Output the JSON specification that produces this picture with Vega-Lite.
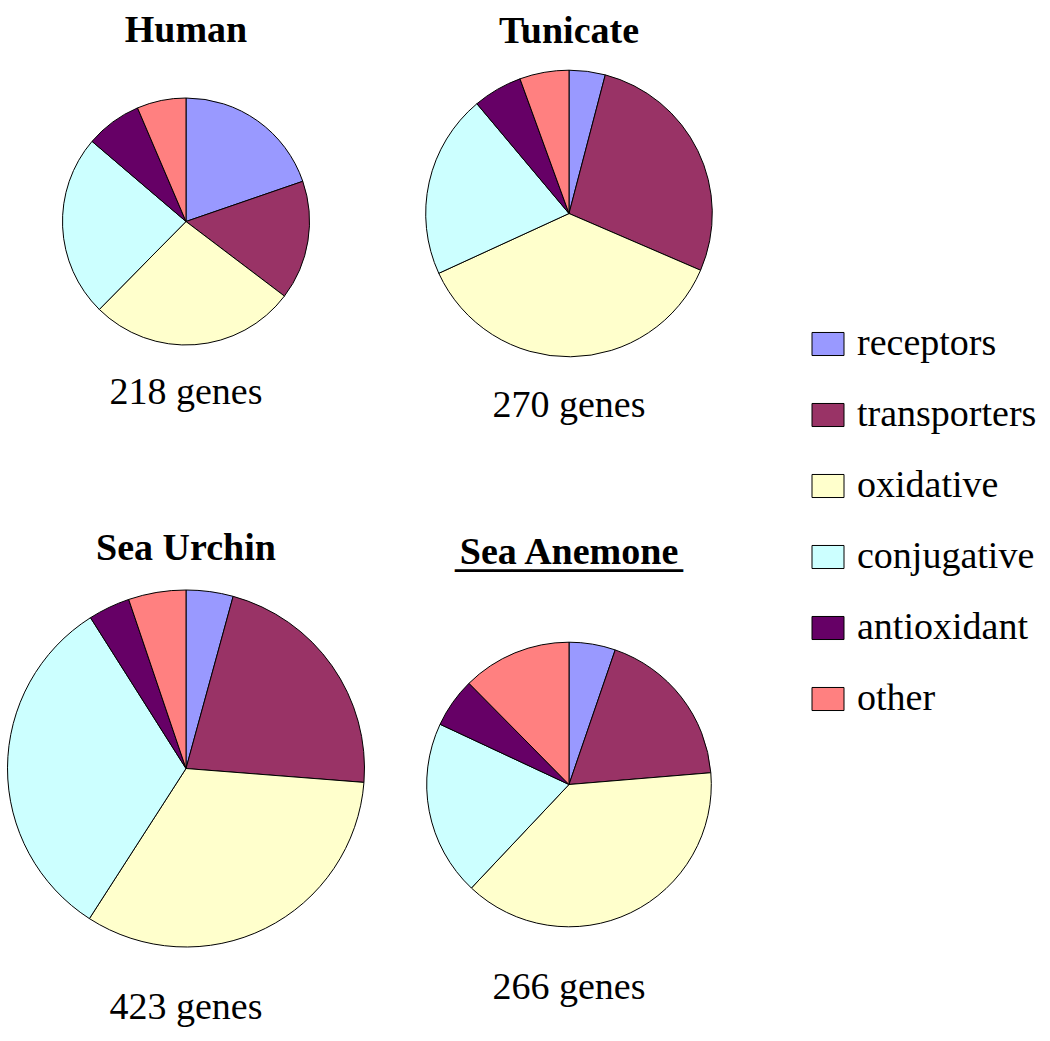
{
  "$schema": "https://vega.github.io/schema/vega-lite/v6.json",
  "padding": 0,
  "background": "white",
  "config": {"view": {"stroke": null}, "text": {"font": "Times New Roman, Liberation Serif, Times, serif", "fontSize": 38, "color": "black"}},
  "datasets": {
    "counts": [
      {"species": "Human", "category": "receptors", "count": 43},
      {"species": "Human", "category": "transporters", "count": 34},
      {"species": "Human", "category": "oxidative", "count": 59},
      {"species": "Human", "category": "conjugative", "count": 52},
      {"species": "Human", "category": "antioxidant", "count": 16},
      {"species": "Human", "category": "other", "count": 14},
      {"species": "Tunicate", "category": "receptors", "count": 11},
      {"species": "Tunicate", "category": "transporters", "count": 74},
      {"species": "Tunicate", "category": "oxidative", "count": 99},
      {"species": "Tunicate", "category": "conjugative", "count": 56},
      {"species": "Tunicate", "category": "antioxidant", "count": 15},
      {"species": "Tunicate", "category": "other", "count": 15},
      {"species": "Sea Urchin", "category": "receptors", "count": 18},
      {"species": "Sea Urchin", "category": "transporters", "count": 93},
      {"species": "Sea Urchin", "category": "oxidative", "count": 139},
      {"species": "Sea Urchin", "category": "conjugative", "count": 135},
      {"species": "Sea Urchin", "category": "antioxidant", "count": 16},
      {"species": "Sea Urchin", "category": "other", "count": 22},
      {"species": "Sea Anemone", "category": "receptors", "count": 14},
      {"species": "Sea Anemone", "category": "transporters", "count": 49},
      {"species": "Sea Anemone", "category": "oxidative", "count": 102},
      {"species": "Sea Anemone", "category": "conjugative", "count": 53},
      {"species": "Sea Anemone", "category": "antioxidant", "count": 15},
      {"species": "Sea Anemone", "category": "other", "count": 33}
    ]
  },
  "columns": 2,
  "align": "each",
  "bounds": "flush",
  "spacing": {"row": 87, "column": 47},
  "concat": [
    {
      "width": 372, "height": 443,
      "layer": [
        {
          "data": {"name": "counts"},
          "transform": [{"filter": "datum.species == 'Human'"}, {"calculate": "indexof(['receptors','transporters','oxidative','conjugative','antioxidant','other'], datum.category)", "as": "rank"}],
          "mark": {"type": "arc", "outerRadius": 123.5, "stroke": "black", "strokeWidth": 1},
          "encoding": {
            "theta": {"field": "count", "type": "quantitative", "stack": true},
            "order": {"field": "rank", "type": "quantitative"},
            "color": {"field": "category", "type": "nominal",
              "scale": {"domain": ["receptors", "transporters", "oxidative", "conjugative", "antioxidant", "other"], "range": ["#9999FF", "#993366", "#FFFFCC", "#CCFFFF", "#660066", "#FF8080"]},
              "legend": {"title": null, "orient": "none", "legendX": 809, "legendY": 325, "padding": 0, "symbolType": "M-1,-0.72L1,-0.72L1,0.72L-1,0.72Z", "symbolSize": 1024, "symbolStrokeColor": "black", "symbolStrokeWidth": 1, "symbolOpacity": 1, "labelFont": "Times New Roman, Liberation Serif, Times, serif", "labelFontSize": 38, "labelColor": "black", "labelOffset": 10, "rowPadding": 33, "labelLimit": 400}}
          }
        },
        {
          "data": {"values": [{"name": "Human"}]},
          "mark": {"type": "text", "theta": 0, "radius": 180, "baseline": "alphabetic", "fontWeight": "bold"},
          "encoding": {"text": {"field": "name"}}
        },
        {
          "data": {"values": [{"label": "218 genes"}]},
          "mark": {"type": "text", "theta": 3.14159265, "radius": 182, "baseline": "alphabetic"},
          "encoding": {"text": {"field": "label"}}
        }
      ]
    },
    {
      "width": 300, "height": 427,
      "layer": [
        {
          "data": {"name": "counts"},
          "transform": [{"filter": "datum.species == 'Tunicate'"}, {"calculate": "indexof(['receptors','transporters','oxidative','conjugative','antioxidant','other'], datum.category)", "as": "rank"}],
          "mark": {"type": "arc", "outerRadius": 143.3, "stroke": "black", "strokeWidth": 1},
          "encoding": {
            "theta": {"field": "count", "type": "quantitative", "stack": true},
            "order": {"field": "rank", "type": "quantitative"},
            "color": {"field": "category", "type": "nominal",
              "scale": {"domain": ["receptors", "transporters", "oxidative", "conjugative", "antioxidant", "other"], "range": ["#9999FF", "#993366", "#FFFFCC", "#CCFFFF", "#660066", "#FF8080"]},
              "legend": {"title": null, "orient": "none", "legendX": 809, "legendY": 325, "padding": 0, "symbolType": "M-1,-0.72L1,-0.72L1,0.72L-1,0.72Z", "symbolSize": 1024, "symbolStrokeColor": "black", "symbolStrokeWidth": 1, "symbolOpacity": 1, "labelFont": "Times New Roman, Liberation Serif, Times, serif", "labelFontSize": 38, "labelColor": "black", "labelOffset": 10, "rowPadding": 33, "labelLimit": 400}}
          }
        },
        {
          "data": {"values": [{"name": "Tunicate"}]},
          "mark": {"type": "text", "theta": 0, "radius": 171, "baseline": "alphabetic", "fontWeight": "bold"},
          "encoding": {"text": {"field": "name"}}
        },
        {
          "data": {"values": [{"label": "270 genes"}]},
          "mark": {"type": "text", "theta": 3.14159265, "radius": 203, "baseline": "alphabetic"},
          "encoding": {"text": {"field": "label"}}
        }
      ]
    },
    {
      "width": 372, "height": 477,
      "layer": [
        {
          "data": {"name": "counts"},
          "transform": [{"filter": "datum.species == 'Sea Urchin'"}, {"calculate": "indexof(['receptors','transporters','oxidative','conjugative','antioxidant','other'], datum.category)", "as": "rank"}],
          "mark": {"type": "arc", "outerRadius": 178.5, "stroke": "black", "strokeWidth": 1},
          "encoding": {
            "theta": {"field": "count", "type": "quantitative", "stack": true},
            "order": {"field": "rank", "type": "quantitative"},
            "color": {"field": "category", "type": "nominal",
              "scale": {"domain": ["receptors", "transporters", "oxidative", "conjugative", "antioxidant", "other"], "range": ["#9999FF", "#993366", "#FFFFCC", "#CCFFFF", "#660066", "#FF8080"]},
              "legend": {"title": null, "orient": "none", "legendX": 809, "legendY": 325, "padding": 0, "symbolType": "M-1,-0.72L1,-0.72L1,0.72L-1,0.72Z", "symbolSize": 1024, "symbolStrokeColor": "black", "symbolStrokeWidth": 1, "symbolOpacity": 1, "labelFont": "Times New Roman, Liberation Serif, Times, serif", "labelFontSize": 38, "labelColor": "black", "labelOffset": 10, "rowPadding": 33, "labelLimit": 400}}
          }
        },
        {
          "data": {"values": [{"name": "Sea Urchin"}]},
          "mark": {"type": "text", "theta": 0, "radius": 209, "baseline": "alphabetic", "fontWeight": "bold"},
          "encoding": {"text": {"field": "name"}}
        },
        {
          "data": {"values": [{"label": "423 genes"}]},
          "mark": {"type": "text", "theta": 3.14159265, "radius": 250, "baseline": "alphabetic"},
          "encoding": {"text": {"field": "label"}}
        }
      ]
    },
    {
      "width": 300, "height": 509,
      "layer": [
        {
          "data": {"name": "counts"},
          "transform": [{"filter": "datum.species == 'Sea Anemone'"}, {"calculate": "indexof(['receptors','transporters','oxidative','conjugative','antioxidant','other'], datum.category)", "as": "rank"}],
          "mark": {"type": "arc", "outerRadius": 142.3, "stroke": "black", "strokeWidth": 1},
          "encoding": {
            "theta": {"field": "count", "type": "quantitative", "stack": true},
            "order": {"field": "rank", "type": "quantitative"},
            "color": {"field": "category", "type": "nominal",
              "scale": {"domain": ["receptors", "transporters", "oxidative", "conjugative", "antioxidant", "other"], "range": ["#9999FF", "#993366", "#FFFFCC", "#CCFFFF", "#660066", "#FF8080"]},
              "legend": {"title": null, "orient": "none", "legendX": 809, "legendY": 325, "padding": 0, "symbolType": "M-1,-0.72L1,-0.72L1,0.72L-1,0.72Z", "symbolSize": 1024, "symbolStrokeColor": "black", "symbolStrokeWidth": 1, "symbolOpacity": 1, "labelFont": "Times New Roman, Liberation Serif, Times, serif", "labelFontSize": 38, "labelColor": "black", "labelOffset": 10, "rowPadding": 33, "labelLimit": 400}}
          }
        },
        {
          "data": {"values": [{"name": ["Sea Anemone", "____________"]}]},
          "mark": {"type": "text", "theta": 0, "radius": 221, "baseline": "alphabetic", "fontWeight": "bold", "lineHeight": 3},
          "encoding": {"text": {"field": "name"}}
        },
        {
          "data": {"values": [{"label": "266 genes"}]},
          "mark": {"type": "text", "theta": 3.14159265, "radius": 214, "baseline": "alphabetic"},
          "encoding": {"text": {"field": "label"}}
        }
      ]
    }
  ]
}
